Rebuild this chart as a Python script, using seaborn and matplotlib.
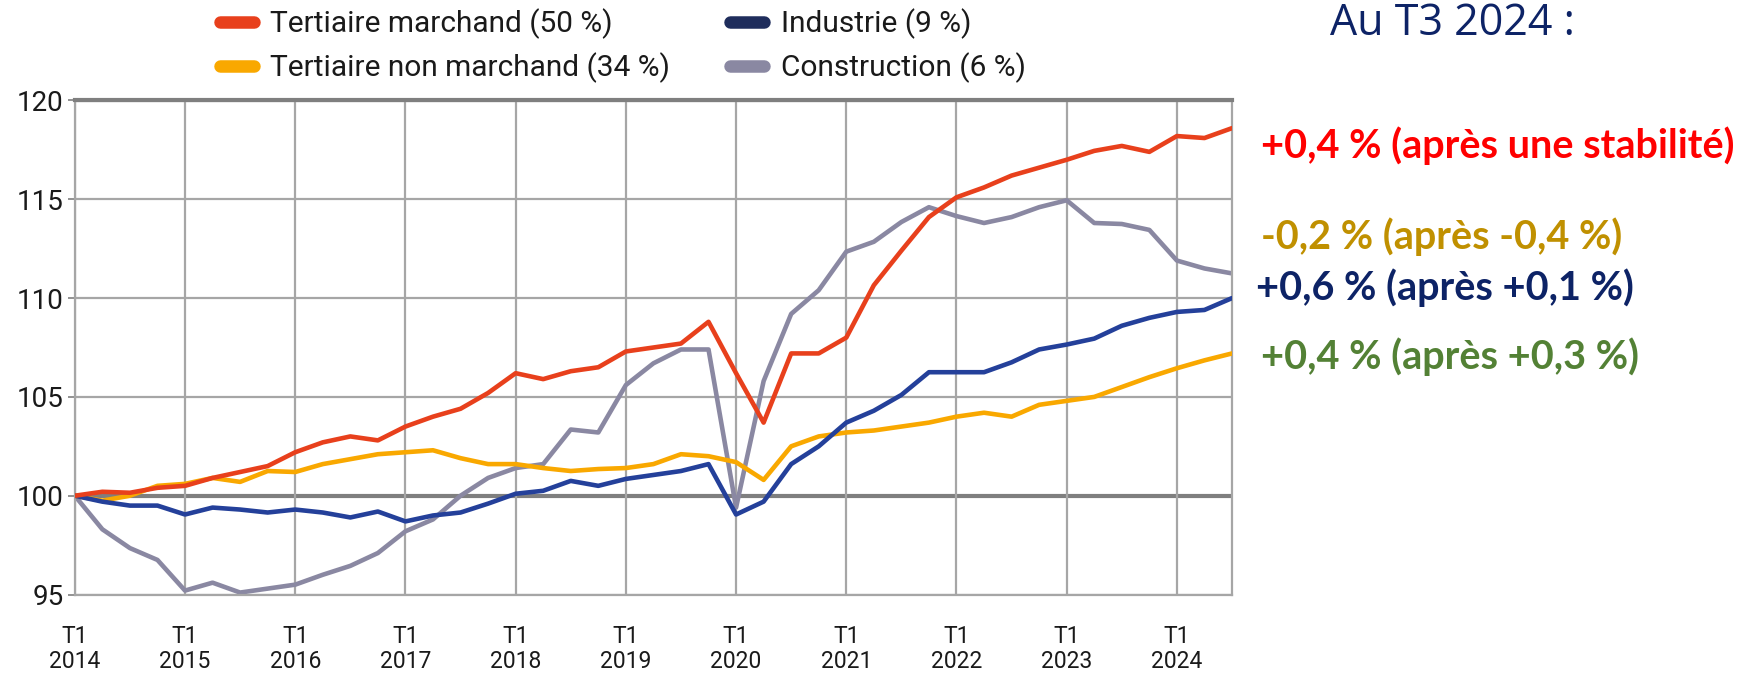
import numpy as np
import pandas as pd
import seaborn as sns
from matplotlib import pyplot as plt

# quarterly index, base 100 at T1 2014, up to T3 2024
years = list(range(2014, 2025))
n_quarters = 43

tertiaire_marchand = [100.0, 100.2, 100.15, 100.4, 100.5, 100.9, 101.2, 101.5, 102.2, 102.7,
                      103.0, 102.8, 103.5, 104.0, 104.4, 105.2, 106.2, 105.9, 106.3, 106.5,
                      107.3, 107.5, 107.7, 108.8, 106.2, 103.7, 107.2, 107.2, 108.0, 110.65,
                      112.4, 114.1, 115.1, 115.6, 116.2, 116.6, 117.0, 117.45, 117.7, 117.4,
                      118.2, 118.1, 118.6]
tertiaire_non_marchand = [100.0, 99.75, 100.0, 100.5, 100.6, 100.9, 100.7, 101.25, 101.2, 101.6,
                          101.85, 102.1, 102.2, 102.3, 101.9, 101.6, 101.6, 101.4, 101.25, 101.35,
                          101.4, 101.6, 102.1, 102.0, 101.7, 100.8, 102.5, 103.0, 103.2, 103.3,
                          103.5, 103.7, 104.0, 104.2, 104.0, 104.6, 104.8, 105.0, 105.5, 106.0,
                          106.45, 106.85, 107.2]
industrie = [100.0, 99.7, 99.5, 99.5, 99.05, 99.4, 99.3, 99.15, 99.3, 99.15,
             98.9, 99.2, 98.7, 99.0, 99.15, 99.6, 100.1, 100.25, 100.75, 100.5,
             100.85, 101.05, 101.25, 101.6, 99.05, 99.7, 101.6, 102.5, 103.7, 104.3,
             105.1, 106.25, 106.25, 106.25, 106.75, 107.4, 107.65, 107.95, 108.6, 109.0,
             109.3, 109.4, 110.0]
construction = [100.0, 98.3, 97.35, 96.75, 95.2, 95.6, 95.1, 95.3, 95.5, 96.0,
                96.45, 97.1, 98.2, 98.8, 100.0, 100.9, 101.4, 101.6, 103.35, 103.2,
                105.6, 106.7, 107.4, 107.4, 99.4, 105.8, 109.2, 110.4, 112.35, 112.85,
                113.85, 114.6, 114.15, 113.8, 114.1, 114.6, 114.95, 113.8, 113.75, 113.45,
                111.9, 111.5, 111.25]

series_names = ["Tertiaire marchand (50 %)", "Tertiaire non marchand (34 %)",
                "Industrie (9 %)", "Construction (6 %)"]
series_colors = ["#E8401C", "#F9A800", "#24409A", "#8A88A2"]
legend_colors = ["#E8401C", "#F9A800", "#1F2D5C", "#8A88A2"]

annotations = ["+0,4 % (après une stabilité)", "-0,2 % (après -0,4 %)",
               "+0,6 % (après +0,1 %)", "+0,4 % (après +0,3 %)"]
annotation_colors = ["#FF0000", "#C09000", "#0D2366", "#538135"]

df = pd.DataFrame({
    "q": np.tile(np.arange(n_quarters), 4),
    "serie": np.repeat(series_names, n_quarters),
    "indice": tertiaire_marchand + tertiaire_non_marchand + industrie + construction,
})

sns.set_theme(style="white")
plt.rcParams["font.family"] = ["Roboto", "DejaVu Sans"]

fig = plt.figure(figsize=(17.52, 6.73), dpi=100)
ax = fig.add_axes([0.0427, 0.1166, 0.6605, 0.7341])

grid_c = "#A6A6A6"
for v in range(95, 121, 5):
    ax.axhline(v, color="#7F7F7F" if v in (100, 120) else grid_c,
               lw=3 if v in (100, 120) else 1.6, zorder=1)
for k in range(0, n_quarters, 4):
    ax.axvline(k, color=grid_c, lw=1.6, zorder=1)

sns.lineplot(data=df, x="q", y="indice", hue="serie", hue_order=series_names,
             palette=series_colors, lw=3.3, ax=ax, legend=False, zorder=3)
# the construction line sits behind the others in the original
for line, z in zip(ax.lines[-4:], [4, 3, 3, 2]):
    line.set_zorder(z)

ax.set_xlim(0, n_quarters - 1)
ax.set_ylim(95, 120)
ax.set_xticks(range(0, n_quarters, 4))
ax.set_xticklabels([f"T1\n{y}" for y in years], fontsize=16.5, color="#1a1a1a",
                   linespacing=1.1)
ax.set_yticks(range(95, 121, 5))
ax.set_yticklabels([str(v) for v in range(95, 121, 5)], fontsize=20, color="#1a1a1a")
ax.tick_params(axis="x", length=0, pad=22)
ax.tick_params(axis="y", length=5, width=1.2, color="#7F7F7F", pad=3, left=True)
ax.set_xlabel("")
ax.set_ylabel("")
for name, sp in ax.spines.items():
    sp.set_color(grid_c if name != "top" else "#7F7F7F")
    sp.set_linewidth(1.6 if name != "top" else 3)

handles = [plt.Line2D([], [], color=c, lw=9, solid_capstyle="round") for c in legend_colors]
fig.legend(handles, series_names, ncol=2, loc="upper left",
           bbox_to_anchor=(0.110, 1.027), frameon=False, fontsize=21.5,
           handlelength=1.15, handletextpad=0.55, columnspacing=2.0,
           labelspacing=0.44, labelcolor="#1a1a1a")

fig.text(0.829, 0.965, "Au T3 2024 :", color="#0D2366", fontsize=31,
         ha="center", va="center", family=["Open Sans", "DejaVu Sans"])
ann_y = [0.783, 0.648, 0.572, 0.47]
ann_x = [0.720, 0.720, 0.717, 0.720]
for txt, c, x, y in zip(annotations, annotation_colors, ann_x, ann_y):
    fig.text(x, y, txt, color=c, fontsize=28.5, fontweight="bold", ha="left",
             va="center", family=["Lato", "DejaVu Sans"])

fig.savefig("out.png", dpi=100)
